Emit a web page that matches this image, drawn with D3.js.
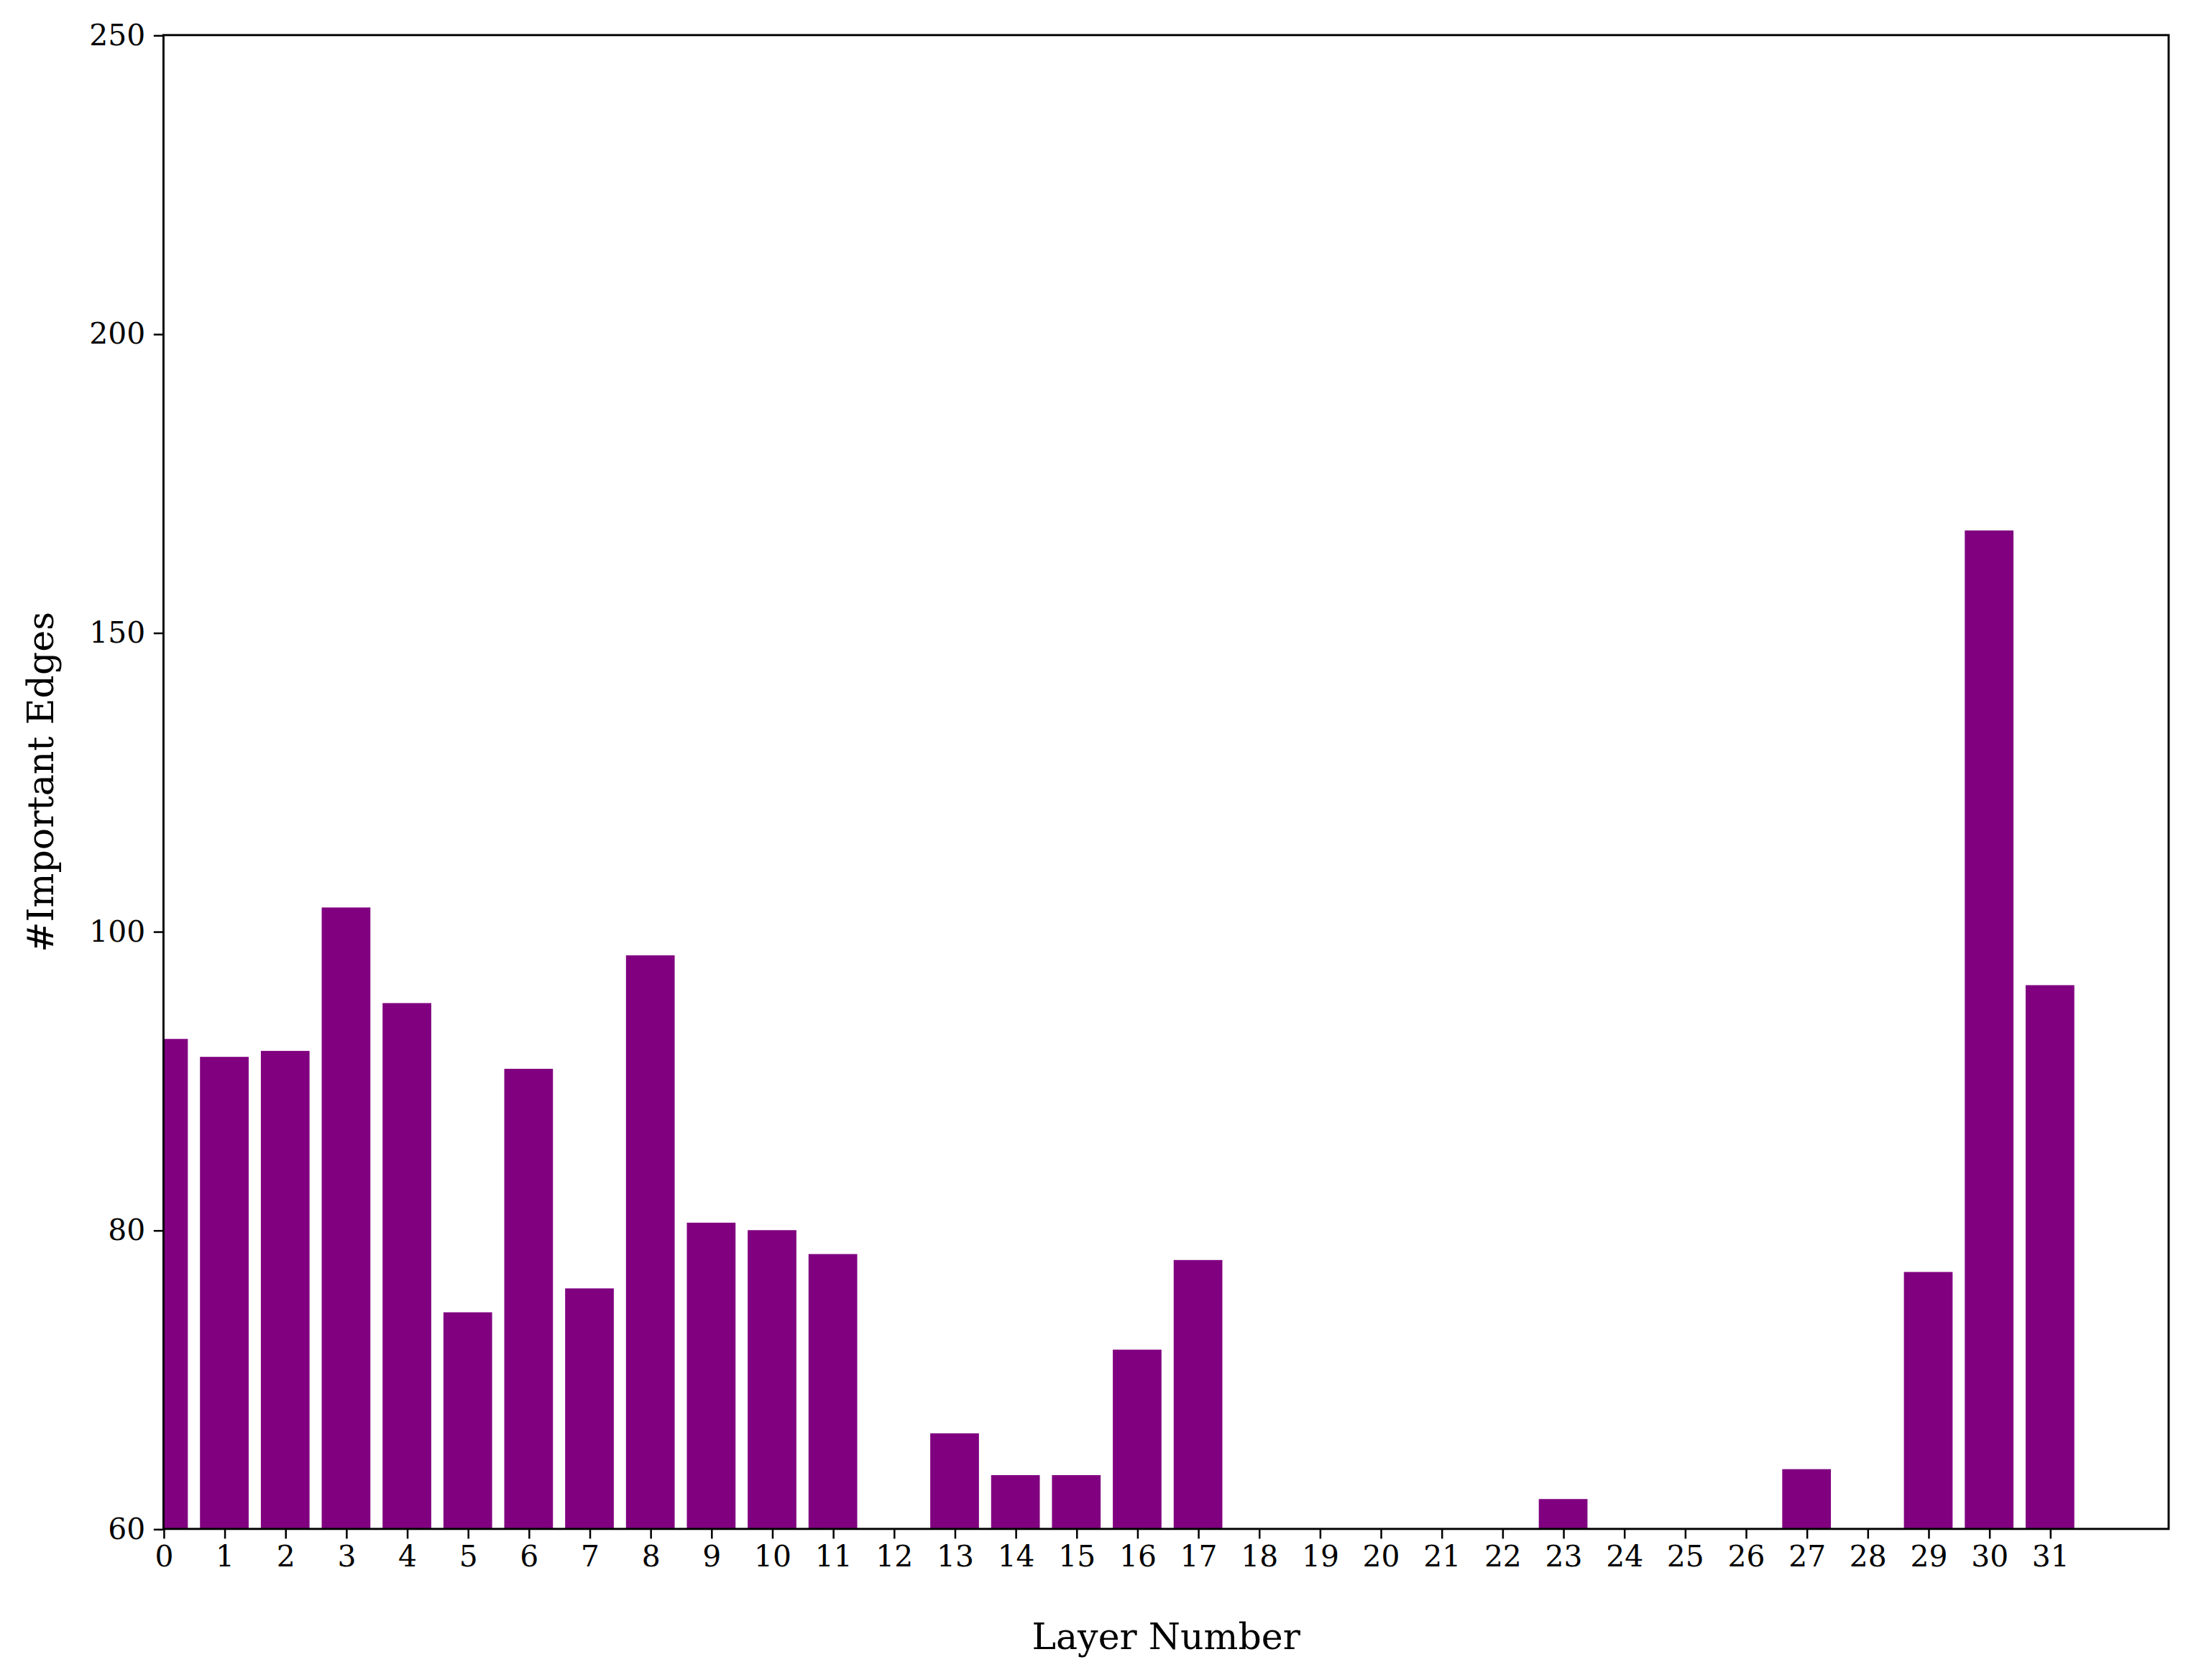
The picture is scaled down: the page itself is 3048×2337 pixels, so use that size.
<!DOCTYPE html>
<html><head><meta charset="utf-8">
<script src="https://cdn.jsdelivr.net/npm/d3@7"></script>
<style>body{margin:0;background:#fff}</style>
</head><body><div class="container"></div>
<script>
// layer numbers and edge counts
const layers = d3.range(32);
const edges = [92.8, 91.6, 92.0, 104, 95.2, 74.5, 90.8, 76.1, 98.4, 80.5, 80.0, 78.4, 60,
  66.4, 63.6, 63.6, 72.0, 78.0, 60, 60, 60, 60, 60, 62.0, 60, 60, 60, 64.0, 60, 77.2, 167.1, 96.4];
const yTicks = [60, 80, 100, 150, 200, 250];

const width = 1568, height = 1202;
const plotL = 117, plotT = 25, plotR = 1552, plotB = 1094;

const svg = d3.select('.container').append('svg')
  .attr('width', 3048).attr('height', 2337)
  .attr('viewBox', `0 0 ${width} ${height}`)
  .style('font-family', '"DejaVu Serif", serif');

const xScale = d3.scaleLinear().domain([0, 32.95]).range([plotL, plotR]);
// the axis puts its ticks evenly although the values are not
const yScale = d3.scaleLinear().domain(yTicks)
  .range(yTicks.map((d, i) => plotB - i * (plotB - plotT) / (yTicks.length - 1)));

svg.append('clipPath').attr('id', 'clip').append('rect')
  .attr('x', plotL).attr('y', plotT).attr('width', plotR - plotL).attr('height', plotB - plotT);

const bw = xScale(0.8) - xScale(0);
svg.append('g').attr('clip-path', 'url(#clip)')
  .selectAll('rect').data(layers).enter().append('rect')
  .attr('x', d => xScale(d) - bw / 2)
  .attr('width', bw)
  .attr('y', d => yScale(edges[d]))
  .attr('height', d => plotB - yScale(edges[d]))
  .attr('fill', '#800080');

const xAxis = svg.append('g').attr('transform', `translate(0,${plotB})`)
  .call(d3.axisBottom(xScale).tickValues(layers).tickFormat(d3.format('d')).tickSize(7).tickPadding(5));
const yAxis = svg.append('g').attr('transform', `translate(${plotL},0)`)
  .call(d3.axisLeft(yScale).tickValues(yTicks).tickSize(7).tickPadding(6));
[xAxis, yAxis].forEach(a => {
  a.select('.domain').remove();
  a.selectAll('text').style('font-size', '21px').attr('fill', '#000').style('font-family', '"DejaVu Serif", serif');
  a.selectAll('line').attr('stroke', '#000').attr('stroke-width', 1.3);
});

svg.append('rect').attr('x', plotL).attr('y', plotT).attr('width', plotR - plotL).attr('height', plotB - plotT)
  .attr('fill', 'none').attr('stroke', '#000').attr('stroke-width', 1.5);

svg.append('text').attr('x', (plotL + plotR) / 2).attr('y', 1180).attr('text-anchor', 'middle')
  .style('font-size', '26px').text('Layer Number');
svg.append('text').attr('transform', `translate(38,${(plotT + plotB) / 2}) rotate(-90)`)
  .attr('text-anchor', 'middle').style('font-size', '26px').text('#Important Edges');
</script></body></html>
